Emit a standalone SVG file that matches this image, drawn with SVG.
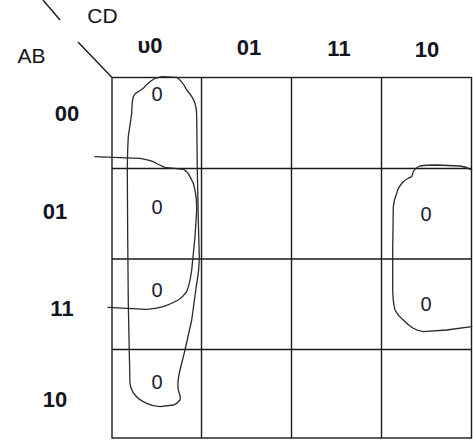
<svg xmlns="http://www.w3.org/2000/svg" width="473" height="440" viewBox="0 0 473 440">
<style>
.grid{fill:none;stroke:#1a1a1a;stroke-width:1.4}
.lbl{font-family:"Liberation Sans",Arial,sans-serif;font-size:21px;fill:#14141e;text-anchor:middle}
.hdr{font-family:"Liberation Sans",Arial,sans-serif;font-size:22px;font-weight:bold;fill:#14141e;text-anchor:middle}
.val{font-family:"Liberation Sans",Arial,sans-serif;font-size:20px;fill:#1e1a30;text-anchor:middle}
.loop{fill:none;stroke:#2a2a2a;stroke-width:1.3;stroke-linejoin:round;stroke-linecap:round}
</style>
<rect width="473" height="440" fill="#ffffff"/>
<g id="diagonal">
<line class="grid" x1="43" y1="0" x2="60" y2="20"/>
<line class="grid" x1="78" y1="42" x2="112" y2="77.5"/>
</g>
<g id="axis-labels">
<text class="lbl" x="102.5" y="23">CD</text>
<text class="lbl" x="31.5" y="63">AB</text>
</g>
<g id="column-headers">
<text class="hdr" x="150" y="53">υ0</text>
<text class="hdr" x="249" y="55">01</text>
<text class="hdr" x="339" y="56">11</text>
<text class="hdr" x="427" y="57">10</text>
</g>
<g id="row-headers">
<text class="hdr" x="67" y="121">00</text>
<text class="hdr" x="55" y="219">01</text>
<text class="hdr" x="62" y="316">11</text>
<text class="hdr" x="55" y="407">10</text>
</g>
<g id="grid">
<rect class="grid" x="112" y="77.5" width="359.5" height="360.5"/>
<line class="grid" x1="201.5" y1="77.5" x2="201.5" y2="438"/>
<line class="grid" x1="291.5" y1="77.5" x2="291.5" y2="438"/>
<line class="grid" x1="381.5" y1="77.5" x2="381.5" y2="438"/>
<line class="grid" x1="112" y1="168.5" x2="471.5" y2="168.5"/>
<line class="grid" x1="112" y1="259" x2="471.5" y2="259"/>
<line class="grid" x1="112" y1="349.5" x2="471.5" y2="349.5"/>
</g>
<g id="cell-values">
<text class="val" x="157" y="101">0</text>
<text class="val" x="157" y="214">0</text>
<text class="val" x="157" y="297">0</text>
<text class="val" x="157" y="389">0</text>
<text class="val" x="426" y="221">0</text>
<text class="val" x="426" y="311">0</text>
</g>
<g id="groupings">
<path class="loop" d="M161.7,76.7 L176.7,77.3 Q183,82 186.7,90 Q193,97 195,103.3 Q197,110 196.7,116.7 L197.3,170 L198.3,220 L199.3,256.7 Q199,272 196.7,283.3 L191.7,320 L185,350 L180,370 Q177,382 178.3,390 Q181,397 180,400 Q177,404 173.3,405 L160,406.7 Q152,406 146.7,403.3 Q139,400 135,395 Q131,390 130,383.3 L129.3,353.3 L128.3,303.3 L127.7,236.7 L127.3,170 Q127.5,150 128.3,136.7 L131.7,113.3 Q132,102 133.3,96.7 Q135,93 138.3,91.7 L143.3,88.3 Q146,85 148.3,83.3 L151,81 L155,78.3 Z"/>
<path class="loop" d="M95,156.7 L113.3,157.3 L140,158.3 Q148,159.5 153.3,161.7 Q159,165 165,167.3 L183.3,169.3 Q188,172 190,176.7 Q194,183 195,190 Q197,200 196.7,210 L195,236.7 L191.7,270 Q190,283 186.7,291.7 Q183,297 178.3,300 Q171,304 163.3,306.7 Q155,309 146.7,309.3 L126.7,308.3 L108,307.3"/>
<path class="loop" d="M471.7,170 Q466,166.5 460,166 L436.7,165 Q426,165 420,166 Q415,168 413.3,171.7 Q412.5,175 411.7,176.7 Q406,179 403.3,181.7 Q398,187 396.7,193.3 Q394,200 393.3,206.7 L392.7,250 L392.7,290 Q393,303 395,310 Q398,316 403.3,320 Q408,325 413.3,328.3 Q418,331 423.3,331.7 L446.7,330 L471.7,326.7"/>
</g>
</svg>
